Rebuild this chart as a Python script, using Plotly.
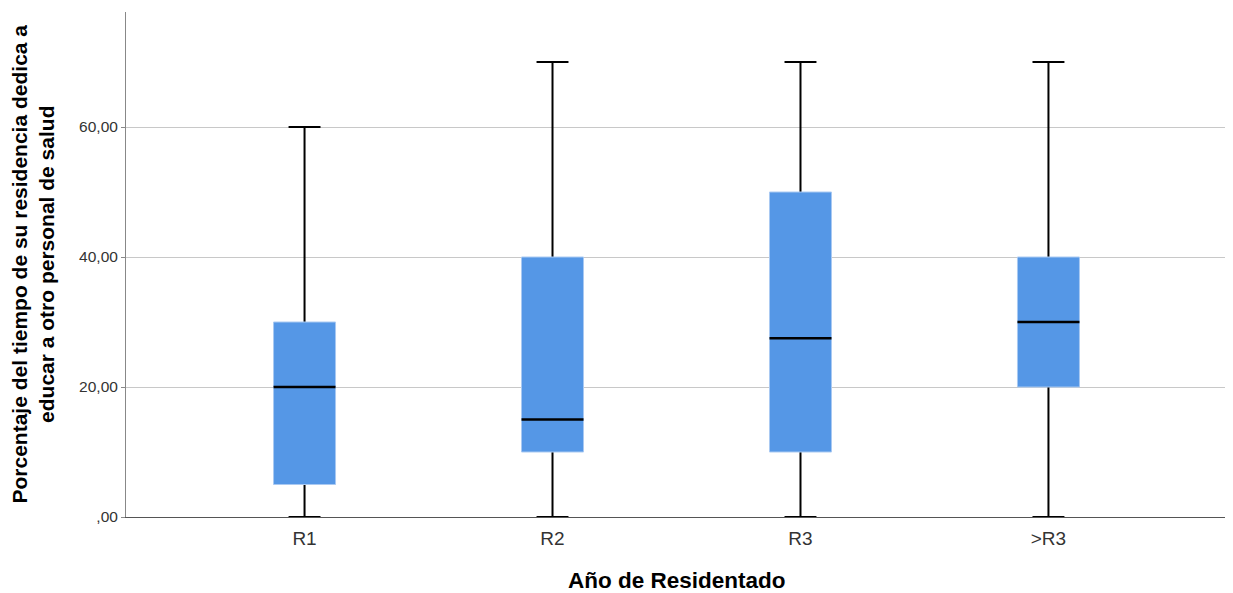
import plotly.graph_objects as go

categories = ["R1", "R2", "R3", ">R3"]
lower = [0, 0, 0, 0]
q1 = [5, 10, 10, 20]
median = [20, 15, 27.5, 30]
q3 = [30, 40, 50, 40]
upper = [60, 70, 70, 70]
ytick_vals = [0, 20, 40, 60]
ytick_text = [",00", "20,00", "40,00", "60,00"]

pos = list(range(len(categories)))
BLUE = "#5597e6"
BOXW = 0.25

fig = go.Figure()
# whiskers (black); box collapsed onto the median so it hides under the fill
fig.add_trace(go.Box(
    x=pos, q1=median, median=median, q3=median, lowerfence=lower, upperfence=upper,
    width=BOXW - 0.02, whiskerwidth=0.56, line=dict(color="black", width=2),
    fillcolor=BLUE, boxpoints=False, hoverinfo="skip", showlegend=False,
))
# boxes (blue with faint border)
fig.add_trace(go.Box(
    x=pos, q1=q1, median=median, q3=q3, lowerfence=q1, upperfence=q3,
    width=BOXW, whiskerwidth=0, line=dict(color="#a9c9f2", width=1),
    fillcolor=BLUE, boxpoints=False, showlegend=False,
))
# medians
for i, m in enumerate(median):
    fig.add_trace(go.Scatter(
        x=[pos[i] - BOXW / 2, pos[i] + BOXW / 2], y=[m, m], mode="lines",
        line=dict(color="black", width=2.5), showlegend=False, hoverinfo="skip",
    ))

fig.update_layout(
    width=1225, height=585,
    margin=dict(l=118, r=6, t=4, b=76),
    paper_bgcolor="white", plot_bgcolor="white",
    boxmode="overlay",
    font=dict(family="Liberation Sans, Arial, sans-serif", color="#222"),
    xaxis=dict(
        range=[-0.72, 3.72], tickvals=pos, ticktext=categories, automargin=False,
        tickfont=dict(size=19, color="#333"), showgrid=False, zeroline=False,
        showline=True, linecolor="#555", linewidth=1, ticks="", ticklabelstandoff=4,
    ),
    yaxis=dict(
        range=[0, 77.7], tickvals=ytick_vals, ticktext=ytick_text, automargin=False,
        tickfont=dict(size=15.5, color="#333"), showgrid=True, gridcolor="#c8c8c8", gridwidth=1,
        zeroline=False, showline=True, linecolor="#888", linewidth=1,
        ticks="outside", ticklen=4, tickcolor="#888",
    ),
    annotations=[
        dict(text="<b>Año de Residentado</b>", xref="paper", yref="paper", x=0.5, y=0,
             xanchor="center", yanchor="middle", yshift=-63, showarrow=False,
             font=dict(size=22.5, color="black")),
        dict(text="<b>Porcentaje del tiempo de su residencia dedica a<br>educar a otro personal de salud</b>",
             xref="paper", yref="paper", x=0, y=0.5, xanchor="center", yanchor="middle",
             xshift=-94, textangle=-90, showarrow=False, font=dict(size=21, color="black")),
    ],
)

fig.write_html("out.html")
